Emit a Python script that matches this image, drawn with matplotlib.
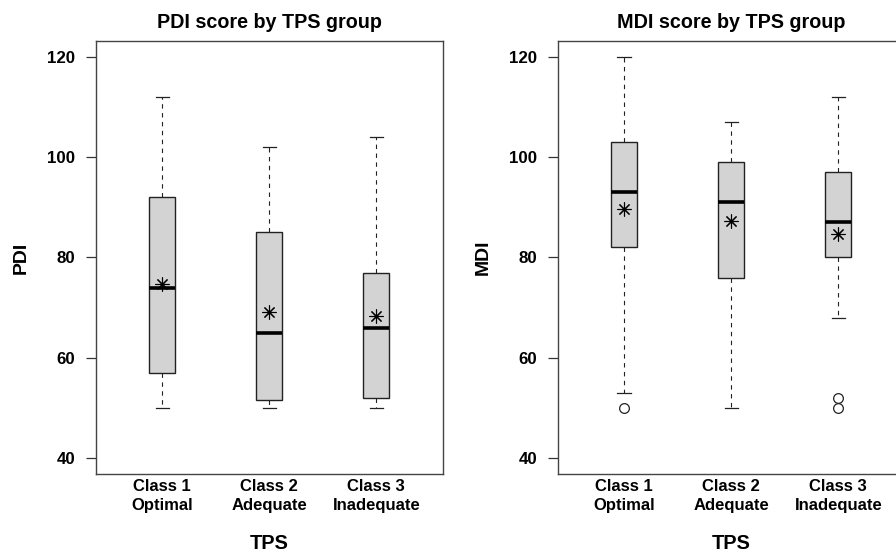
import numpy as np
import matplotlib
matplotlib.use('Agg')
import matplotlib.pyplot as plt
from matplotlib import rc
rc('font', family=['Liberation Sans', 'DejaVu Sans'], weight='bold')

# =============================================
# Data
# =============================================

groups = ['Class 1\nOptimal', 'Class 2\nAdequate', 'Class 3\nInadequate']

pdi_whislo = [50, 50, 50]
pdi_q1     = [57, 51.5, 52]
pdi_med    = [74, 65, 66]
pdi_q3     = [92, 85, 77]
pdi_whishi = [112, 102, 104]
pdi_mean   = [74.8, 69.2, 68.3]
pdi_fliers = [[], [], []]

mdi_whislo = [53, 50, 68]
mdi_q1     = [82, 76, 80]
mdi_med    = [93, 91, 87]
mdi_q3     = [103, 99, 97]
mdi_whishi = [120, 107, 112]
mdi_mean   = [89.7, 87.2, 84.7]
mdi_fliers = [[50], [], [52, 50]]

yticks = [40, 60, 80, 100, 120]


def make_stats(lo, q1, med, q3, hi, mean, fliers):
    return [dict(whislo=a, q1=b, med=c, q3=d, whishi=e, mean=f, fliers=g)
            for a, b, c, d, e, f, g in zip(lo, q1, med, q3, hi, mean, fliers)]


def draw_panel(ax, stats, title, ylab):
    ax.bxp(stats, positions=[1, 2, 3], widths=0.246, capwidths=0.123,
           patch_artist=True, showmeans=True,
           boxprops=dict(facecolor='#d3d3d3', edgecolor='#222222', linewidth=1.0),
           medianprops=dict(color='black', linewidth=2.6, solid_capstyle='butt'),
           whiskerprops=dict(color='#222222', linewidth=0.8, linestyle=(0, (4, 4))),
           capprops=dict(color='#222222', linewidth=0.9),
           meanprops=dict(marker=(8, 2, 0), markersize=10, markeredgecolor='black',
                          markeredgewidth=0.8, color='black'),
           flierprops=dict(marker='o', markersize=7, markerfacecolor='none',
                           markeredgecolor='#222222', markeredgewidth=0.9))
    ax.set_xlim(0.38, 3.62)
    ax.set_ylim(36.8, 123.2)
    ax.set_yticks(yticks)
    ax.set_xticks([1, 2, 3])
    ax.set_xticklabels(groups, fontsize=12, fontweight='bold', linespacing=1.35)
    ax.tick_params(axis='x', length=0, pad=4)
    ax.tick_params(axis='y', length=7.5, width=0.9, color='#333333', pad=7,
                   labelsize=12.2)
    for sp in ax.spines.values():
        sp.set_color('#444444')
        sp.set_linewidth(1.0)
    ax.set_title(title, fontsize=14.2, fontweight='bold', pad=9.5)
    ax.set_ylabel(ylab, fontsize=14, fontweight='bold', labelpad=13)
    ax.set_xlabel('TPS', fontsize=14.4, fontweight='bold', labelpad=15)


fig = plt.figure(figsize=(8.96, 5.54), dpi=100)
ax1 = fig.add_axes([0.1068, 0.1449, 0.3873, 0.7806])
ax2 = fig.add_axes([0.6224, 0.1449, 0.3873, 0.7806])

draw_panel(ax1, make_stats(pdi_whislo, pdi_q1, pdi_med, pdi_q3, pdi_whishi,
                           pdi_mean, pdi_fliers), 'PDI score by TPS group', 'PDI')
draw_panel(ax2, make_stats(mdi_whislo, mdi_q1, mdi_med, mdi_q3, mdi_whishi,
                           mdi_mean, mdi_fliers), 'MDI score by TPS group', 'MDI')

fig.savefig('out.png', dpi=100)
